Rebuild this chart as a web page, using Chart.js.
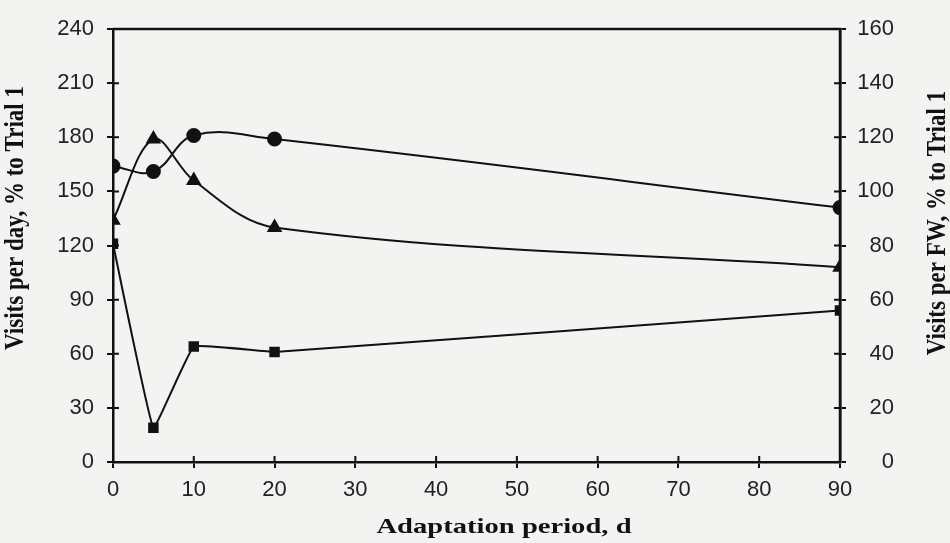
<!DOCTYPE html>
<html>
<head>
<meta charset="utf-8">
<script src="https://cdn.jsdelivr.net/npm/chart.js@4.4.0/dist/chart.umd.min.js"></script>
<style>
  body { margin: 0; background: #f3f3f1; }
  #wrap { width: 950px; height: 543px; }
</style>
</head>
<body>
<div id="wrap"><canvas id="chart" width="950" height="543"></canvas></div>
<script>
// 數據 (left axis units)
var days = [0, 5, 10, 20, 90];
var circles = [164, 161, 181, 179, 141];
var triangles = [134, 179, 156, 130, 108];
var squares = [121, 19, 64, 61, 84];

var xTicks = [0, 10, 20, 30, 40, 50, 60, 70, 80, 90];
var leftTitle = 'Visits per day, % to Trial 1';
var rightTitle = 'Visits per FW, % to Trial 1';
var xTitle = 'Adaptation period, d';

function pts(ys) {
  return days.map(function (d, i) { return { x: d, y: ys[i] }; });
}

// 外框, 內側刻度, 右軸標籤, 軸標題
var boxPlugin = {
  id: 'box',
  afterDraw: function (chart) {
    var a = chart.chartArea, c = chart.ctx;
    var sx = chart.scales.x, sy = chart.scales.y, sy1 = chart.scales.y1;
    c.save();
    c.strokeStyle = '#111';
    c.lineWidth = 2.5;
    c.beginPath();
    c.moveTo(a.left, a.top);
    c.lineTo(a.right, a.top);
    c.lineTo(a.right, a.bottom);
    c.stroke();

    // inner halves of the tick marks
    c.lineWidth = 2;
    c.beginPath();
    sx.ticks.forEach(function (t) {
      var px = sx.getPixelForValue(t.value);
      c.moveTo(px, a.bottom); c.lineTo(px, a.bottom - 6);
    });
    sy.ticks.forEach(function (t) {
      var py = sy.getPixelForValue(t.value);
      c.moveTo(a.left, py); c.lineTo(a.left + 6, py);
    });
    sy1.ticks.forEach(function (t) {
      var py = sy1.getPixelForValue(t.value);
      c.moveTo(a.right, py); c.lineTo(a.right - 6, py);
    });
    c.stroke();

    c.fillStyle = '#222';
    c.font = '22px "Liberation Sans"';
    c.textAlign = 'right';
    c.textBaseline = 'middle';
    sy1.ticks.forEach(function (t) {
      c.fillText(String(t.value), 894, sy1.getPixelForValue(t.value));
    });

    c.fillStyle = '#111';
    c.textAlign = 'center';

    // x title (scan is a bit wide)
    c.save();
    c.translate(504, 527);
    c.scale(1.3, 1);
    c.font = 'bold 22px "Liberation Serif"';
    c.fillText(xTitle, 0, 0);
    c.restore();

    // left title
    c.save();
    c.translate(16, 218);
    c.rotate(-Math.PI / 2);
    c.scale(1, 1.15);
    c.font = 'bold 23px "Liberation Serif"';
    c.fillText(leftTitle, 0, 0);
    c.restore();

    // right title
    c.save();
    c.translate(938, 223);
    c.rotate(-Math.PI / 2);
    c.scale(1, 1.15);
    c.font = 'bold 23px "Liberation Serif"';
    c.fillText(rightTitle, 0, 0);
    c.restore();

    c.restore();
  }
};

var line = {
  borderColor: '#111',
  backgroundColor: '#111',
  borderWidth: 2,
  pointBorderColor: '#111',
  pointBackgroundColor: '#111',
  fill: false
};

var tickFont = { family: 'Liberation Sans', size: 22 };

var ctx = document.getElementById('chart').getContext('2d');
var myChart = new Chart(ctx, {
  type: 'line',
  data: {
    datasets: [
      Object.assign({ label: 'circles', data: pts(circles), pointStyle: 'circle', pointRadius: 6.5, tension: 0.4 }, line),
      Object.assign({ label: 'triangles', data: pts(triangles), pointStyle: 'triangle', pointRadius: 7, tension: 0.35 }, line),
      Object.assign({ label: 'squares', data: pts(squares), pointStyle: 'rect', pointRadius: 6, tension: 0.08 }, line)
    ]
  },
  options: {
    responsive: false,
    animation: false,
    layout: { padding: { top: 29, right: 0, left: 0, bottom: 0 } },
    plugins: { legend: { display: false }, tooltip: { enabled: false } },
    scales: {
      x: {
        type: 'linear',
        min: 0, max: 90,
        afterBuildTicks: function (s) { s.ticks = xTicks.map(function (v) { return { value: v }; }); },
        afterFit: function (s) { s.height = 81; },
        border: { color: '#111', width: 2.5 },
        grid: { drawOnChartArea: false, color: '#111', tickLength: 6, lineWidth: 2 },
        ticks: { color: '#222', font: tickFont, padding: 9 }
      },
      y: {
        position: 'left',
        min: 0, max: 240,
        ticks: { stepSize: 30, color: '#222', font: tickFont, padding: 13 },
        afterFit: function (s) { s.width = 113; },
        border: { color: '#111', width: 2.5 },
        grid: { drawOnChartArea: false, color: '#111', tickLength: 6, lineWidth: 2 }
      },
      y1: {
        position: 'right',
        min: 0, max: 160,
        ticks: { stepSize: 20, color: 'rgba(0,0,0,0)', font: tickFont, padding: 11 },
        afterFit: function (s) { s.width = 110; },
        border: { color: '#111', width: 2.5 },
        grid: { drawOnChartArea: false, color: '#111', tickLength: 6, lineWidth: 2 }
      }
    }
  },
  plugins: [boxPlugin]
});
</script>
</body>
</html>
